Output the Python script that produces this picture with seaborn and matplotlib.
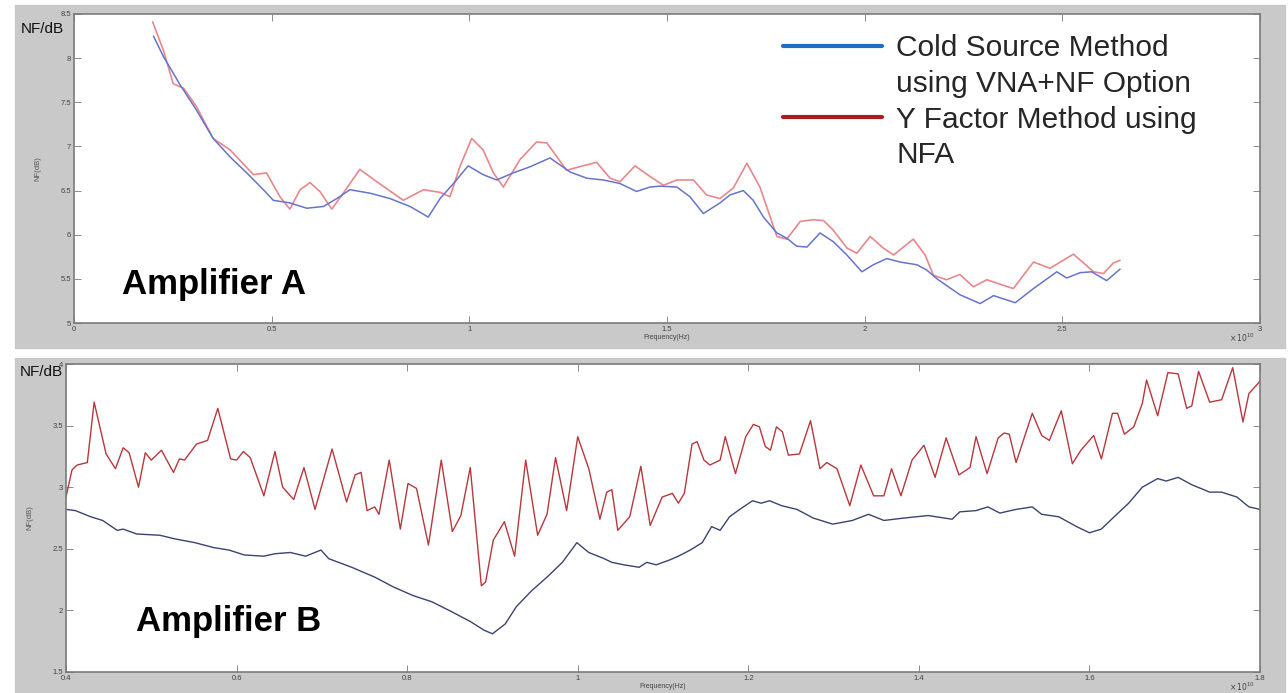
import matplotlib
matplotlib.use("Agg")
import matplotlib.pyplot as plt
import seaborn as sns
import pandas as pd
from matplotlib.lines import Line2D
from matplotlib.patches import Rectangle

# ---------------- data: Amplifier A (frequency in 1e10 Hz, NF in dB) -------------
a_cold_f = [0.201, 0.226, 0.268, 0.310, 0.352, 0.395, 0.437, 0.479, 0.504, 0.546, 0.589,
            0.631, 0.665, 0.698, 0.749, 0.799, 0.850, 0.896, 0.926, 0.960, 0.997, 1.035,
            1.069, 1.111, 1.154, 1.204, 1.255, 1.297, 1.339, 1.381, 1.423, 1.457, 1.482,
            1.525, 1.558, 1.592, 1.634, 1.659, 1.693, 1.718, 1.744, 1.778, 1.803, 1.828,
            1.854, 1.887, 1.921, 1.955, 1.993, 2.022, 2.056, 2.090, 2.132, 2.157, 2.186,
            2.199, 2.241, 2.292, 2.326, 2.381, 2.427, 2.486, 2.511, 2.545, 2.574, 2.612, 2.646]
a_cold_nf = [8.25, 8.02, 7.70, 7.41, 7.09, 6.88, 6.70, 6.51, 6.39, 6.36, 6.30,
             6.32, 6.41, 6.51, 6.47, 6.41, 6.32, 6.20, 6.41, 6.58, 6.78, 6.68,
             6.62, 6.70, 6.77, 6.87, 6.71, 6.64, 6.62, 6.58, 6.49, 6.54, 6.55,
             6.54, 6.43, 6.24, 6.36, 6.45, 6.50, 6.39, 6.20, 6.02, 5.96, 5.87,
             5.86, 6.02, 5.92, 5.77, 5.58, 5.66, 5.73, 5.69, 5.66, 5.60, 5.49,
             5.45, 5.32, 5.22, 5.31, 5.23, 5.39, 5.58, 5.51, 5.57, 5.58, 5.48, 5.61]

a_yfac_f = [0.199, 0.226, 0.251, 0.277, 0.310, 0.352, 0.395, 0.454, 0.487, 0.521, 0.546,
            0.572, 0.597, 0.622, 0.652, 0.681, 0.723, 0.766, 0.833, 0.884, 0.926, 0.951,
            0.976, 1.006, 1.035, 1.061, 1.086, 1.128, 1.170, 1.196, 1.246, 1.279, 1.322,
            1.356, 1.381, 1.419, 1.457, 1.491, 1.525, 1.567, 1.600, 1.634, 1.668, 1.702,
            1.735, 1.778, 1.803, 1.837, 1.870, 1.896, 1.921, 1.955, 1.980, 2.014, 2.047,
            2.073, 2.123, 2.153, 2.174, 2.207, 2.241, 2.275, 2.309, 2.376, 2.427, 2.469,
            2.528, 2.579, 2.604, 2.629, 2.646]
a_yfac_nf = [8.41, 8.09, 7.71, 7.66, 7.45, 7.09, 6.96, 6.68, 6.70, 6.43, 6.29,
             6.51, 6.59, 6.49, 6.29, 6.47, 6.74, 6.60, 6.39, 6.51, 6.48, 6.43,
             6.77, 7.09, 6.96, 6.70, 6.54, 6.85, 7.05, 7.04, 6.73, 6.77, 6.82,
             6.64, 6.60, 6.78, 6.66, 6.56, 6.62, 6.62, 6.45, 6.41, 6.53, 6.81,
             6.54, 5.98, 5.95, 6.15, 6.17, 6.16, 6.05, 5.85, 5.79, 5.98, 5.85,
             5.77, 5.95, 5.77, 5.54, 5.49, 5.55, 5.41, 5.49, 5.39, 5.69, 5.62,
             5.78, 5.58, 5.56, 5.68, 5.71]

# ---------------- data: Amplifier B ----------------
b_cold_f = [0.400, 0.411, 0.429, 0.443, 0.460, 0.467, 0.483, 0.510, 0.528, 0.551, 0.573,
            0.591, 0.609, 0.632, 0.645, 0.663, 0.681, 0.699, 0.708, 0.735, 0.762, 0.784,
            0.807, 0.829, 0.852, 0.874, 0.890, 0.900, 0.915, 0.928, 0.946, 0.964, 0.982,
            0.999, 1.013, 1.031, 1.040, 1.054, 1.072, 1.081, 1.092, 1.108, 1.118, 1.132,
            1.146, 1.157, 1.167, 1.178, 1.190, 1.205, 1.215, 1.225, 1.239, 1.257, 1.276,
            1.299, 1.322, 1.341, 1.359, 1.383, 1.411, 1.439, 1.448, 1.467, 1.481, 1.495,
            1.514, 1.533, 1.544, 1.564, 1.585, 1.600, 1.614, 1.629, 1.646, 1.662, 1.680,
            1.690, 1.704, 1.720, 1.741, 1.755, 1.773, 1.787, 1.800]
b_cold_nf = [2.82, 2.81, 2.76, 2.73, 2.65, 2.66, 2.62, 2.61, 2.58, 2.55, 2.51,
             2.49, 2.45, 2.44, 2.46, 2.47, 2.44, 2.49, 2.42, 2.35, 2.27, 2.19,
             2.12, 2.07, 1.99, 1.91, 1.84, 1.81, 1.89, 2.03, 2.16, 2.27, 2.39,
             2.55, 2.47, 2.42, 2.39, 2.37, 2.35, 2.39, 2.37, 2.41, 2.44, 2.49,
             2.55, 2.68, 2.65, 2.76, 2.82, 2.89, 2.87, 2.89, 2.85, 2.82, 2.75,
             2.70, 2.73, 2.78, 2.73, 2.75, 2.77, 2.74, 2.80, 2.81, 2.84, 2.79,
             2.82, 2.84, 2.78, 2.76, 2.68, 2.63, 2.66, 2.76, 2.87, 3.00, 3.07,
             3.05, 3.08, 3.02, 2.96, 2.96, 2.92, 2.84, 2.82]

b_yfac_f = [0.400, 0.407, 0.413, 0.425, 0.433, 0.447, 0.458, 0.467, 0.474, 0.485, 0.493,
            0.500, 0.512, 0.526, 0.533, 0.539, 0.553, 0.566, 0.578, 0.593, 0.600, 0.608,
            0.616, 0.632, 0.645, 0.654, 0.667, 0.679, 0.692, 0.712, 0.729, 0.739, 0.746,
            0.753, 0.762, 0.767, 0.779, 0.792, 0.801, 0.811, 0.825, 0.840, 0.853, 0.863,
            0.874, 0.887, 0.892, 0.901, 0.914, 0.926, 0.939, 0.953, 0.964, 0.974, 0.987,
            1.000, 1.013, 1.026, 1.034, 1.040, 1.047, 1.061, 1.074, 1.085, 1.099, 1.111,
            1.118, 1.125, 1.134, 1.140, 1.148, 1.155, 1.167, 1.173, 1.185, 1.197, 1.206,
            1.213, 1.220, 1.226, 1.233, 1.240, 1.247, 1.260, 1.273, 1.284, 1.292, 1.304,
            1.319, 1.332, 1.347, 1.359, 1.368, 1.379, 1.392, 1.406, 1.419, 1.432, 1.447,
            1.460, 1.467, 1.480, 1.493, 1.500, 1.506, 1.514, 1.533, 1.544, 1.553, 1.567,
            1.580, 1.590, 1.605, 1.614, 1.627, 1.633, 1.641, 1.652, 1.662, 1.667, 1.680,
            1.692, 1.704, 1.714, 1.720, 1.728, 1.741, 1.755, 1.768, 1.780, 1.787, 1.800]
b_yfac_nf = [2.92, 3.14, 3.18, 3.20, 3.69, 3.27, 3.15, 3.32, 3.28, 3.00, 3.28,
             3.22, 3.30, 3.12, 3.23, 3.22, 3.35, 3.38, 3.64, 3.23, 3.22, 3.29,
             3.24, 2.93, 3.29, 3.00, 2.90, 3.16, 2.82, 3.31, 2.88, 3.10, 3.12,
             2.81, 2.84, 2.78, 3.22, 2.66, 3.03, 2.99, 2.53, 3.22, 2.64, 2.77,
             3.16, 2.20, 2.23, 2.57, 2.72, 2.44, 3.22, 2.61, 2.78, 3.24, 2.81,
             3.41, 3.15, 2.74, 2.96, 2.98, 2.65, 2.76, 3.17, 2.69, 2.92, 2.95,
             2.87, 2.95, 3.35, 3.37, 3.22, 3.18, 3.22, 3.41, 3.11, 3.41, 3.51,
             3.49, 3.33, 3.30, 3.49, 3.45, 3.26, 3.27, 3.54, 3.15, 3.20, 3.15,
             2.85, 3.18, 2.93, 2.93, 3.15, 2.93, 3.22, 3.34, 3.08, 3.40, 3.10,
             3.16, 3.41, 3.11, 3.40, 3.44, 3.43, 3.20, 3.60, 3.42, 3.38, 3.62,
             3.19, 3.30, 3.42, 3.23, 3.60, 3.60, 3.43, 3.49, 3.68, 3.87, 3.58,
             3.93, 3.92, 3.64, 3.66, 3.94, 3.69, 3.71, 3.97, 3.53, 3.76, 3.86]

a_xticks = [0, 0.5, 1, 1.5, 2, 2.5, 3]
a_xticklabels = ["0", "0.5", "1", "1.5", "2", "2.5", "3"]
a_yticks = [5, 5.5, 6, 6.5, 7, 7.5, 8, 8.5]
a_yticklabels = ["5", "5.5", "6", "6.5", "7", "7.5", "8", "8.5"]
b_xticks = [0.4, 0.6, 0.8, 1.0, 1.2, 1.4, 1.6, 1.8]
b_xticklabels = ["0.4", "0.6", "0.8", "1", "1.2", "1.4", "1.6", "1.8"]
b_yticks = [1.5, 2, 2.5, 3, 3.5, 4]
b_yticklabels = ["1.5", "2", "2.5", "3", "3.5", "4"]

legend_labels = ["Cold Source Method", "using VNA+NF Option", "Y Factor Method using", "NFA"]
panel_titles = ["Amplifier A", "Amplifier B"]

# ---------------- figure ----------------
sns.set_style("white")
plt.rcParams["font.family"] = ["Liberation Sans", "DejaVu Sans"]

W, H = 1288, 693
fig = plt.figure(figsize=(W / 100, H / 100), dpi=100, facecolor="white")

GRAY = "#c9c9c9"
fig.patches.append(Rectangle((15 / W, 1 - 348 / H), 1270 / W, 343 / H,
                             transform=fig.transFigure, color=GRAY, zorder=-10))
fig.patches.append(Rectangle((15 / W, 0), 1270 / W, 1 - 358 / H,
                             transform=fig.transFigure, color=GRAY, zorder=-10))


def px_axes(left, top, right, bottom):
    ax = fig.add_axes([left / W, 1 - bottom / H, (right - left) / W, (bottom - top) / H])
    ax.set_zorder(2)
    return ax


axA = px_axes(74, 14, 1260, 323)
axB = px_axes(66, 364, 1260, 672)

# Amplifier A
dfa1 = pd.DataFrame({"f": a_cold_f, "nf": a_cold_nf})
dfa2 = pd.DataFrame({"f": a_yfac_f, "nf": a_yfac_nf})
sns.lineplot(data=dfa2, x="f", y="nf", ax=axA, color="#e8878c", lw=1.2,
             estimator=None, sort=False)
sns.lineplot(data=dfa1, x="f", y="nf", ax=axA, color="#6674cc", lw=1.1,
             estimator=None, sort=False)

# Amplifier B
dfb1 = pd.DataFrame({"f": b_cold_f, "nf": b_cold_nf})
dfb2 = pd.DataFrame({"f": b_yfac_f, "nf": b_yfac_nf})
sns.lineplot(data=dfb2, x="f", y="nf", ax=axB, color="#b8373c", lw=1.0,
             estimator=None, sort=False)
sns.lineplot(data=dfb1, x="f", y="nf", ax=axB, color="#3b4372", lw=1.0,
             estimator=None, sort=False)

setups = [
    (axA, (0, 3), (5, 8.5), a_xticks, a_xticklabels, a_yticks, a_yticklabels, -0.048),
    (axB, (0.4, 1.8), (1.5, 4), b_xticks, b_xticklabels, b_yticks, b_yticklabels, -0.048),
]
for ax, xl, yl, xt, xtl, yt, ytl, ey in setups:
    ax.set_xlim(*xl)
    ax.set_ylim(*yl)
    ax.set_xticks(xt)
    ax.set_xticklabels(xtl)
    ax.set_yticks(yt)
    ax.set_yticklabels(ytl)
    ax.set_facecolor("white")
    for s in ax.spines.values():
        s.set_visible(True)
        s.set_color("#7a7a7a")
        s.set_linewidth(1.2)
    ax.tick_params(direction="in", length=5, width=0.6, color="#777777",
                   labelsize=5.5, labelcolor="#444444", pad=2,
                   top=True, right=True, bottom=True, left=True)
    ax.set_xlabel("Frequency(Hz)", fontsize=5, color="#444444", labelpad=1)
    ax.set_ylabel("NF(dB)", fontsize=5.5, color="#555555", labelpad=14)
    ax.text(0.996, ey, r"$\times\,10^{10}$", transform=ax.transAxes, ha="right",
            va="center", fontsize=5.5, color="#444444")

# headers and panel titles
fig.text(42 / W, 1 - 29 / H, "NF/dB", fontsize=11, ha="center", va="center",
         color="#111111", zorder=5)
fig.text(41 / W, 1 - 372 / H, "NF/dB", fontsize=11, ha="center", va="center",
         color="#111111", zorder=5)
axA.text(0.0405, 0.094, panel_titles[0], transform=axA.transAxes, fontsize=25,
         fontweight="bold", ha="left", va="baseline", color="black")
axB.text(0.0586, 0.133, panel_titles[1], transform=axB.transAxes, fontsize=25,
         fontweight="bold", ha="left", va="baseline", color="black")

# legend
handles = [Line2D([], [], color="#1f6cc4", lw=3),
           Line2D([], [], color="none", lw=0),
           Line2D([], [], color="#ad1a1f", lw=3),
           Line2D([], [], color="none", lw=0)]
leg = axA.legend(handles, legend_labels, loc="upper left", bbox_to_anchor=(0.598, 0.935),
                 frameon=False, fontsize=21.5, handlelength=3.3, handletextpad=0.49,
                 labelspacing=0.26, borderpad=0, borderaxespad=0)

fig.savefig("out.png", dpi=100, facecolor="white")
